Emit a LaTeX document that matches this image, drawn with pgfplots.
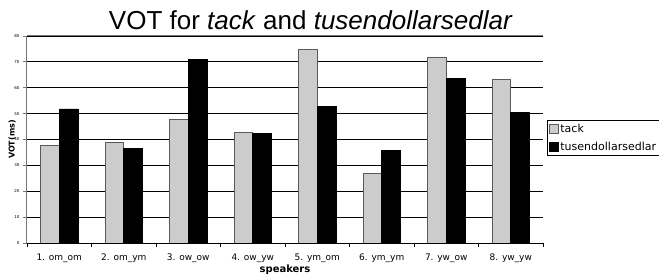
\documentclass[border=0pt]{standalone}
\usepackage{pgfplots}
\pgfplotsset{compat=1.18}
\usepackage{fontspec}
\setmainfont{DejaVu Sans}
\newfontfamily\titlefont{Liberation Sans}
\definecolor{tackgray}{RGB}{204,204,204}
\definecolor{edgegray}{RGB}{90,90,90}
\definecolor{axgray}{RGB}{120,120,120}
\begin{document}
\begin{tikzpicture}[x=1pt,y=1pt]
\path[use as bounding box, clip] (0,0) rectangle (659,280);
\begin{axis}[
  at={(27pt,37pt)}, anchor=south west,
  scale only axis, width=516pt, height=207pt,
  ybar=0pt, bar width=18.7pt,
  xmin=-0.5, xmax=7.5, ymin=0, ymax=80,
  xtick={0,...,7},
  xticklabels={1. om\_om,2. om\_ym,3. ow\_ow,4. ow\_yw,5. ym\_om,6. ym\_ym,7. yw\_ow,8. yw\_yw},
  major x tick style={draw=none},
  minor xtick={-0.5,0.5,...,7.5},
  minor x tick style={black, line width=0.8pt},
  x tick style={line width=0.8pt},
  tick align=outside,
  minor tick length=4pt,
  major tick length=4pt,
  xtick pos=bottom, ytick pos=left,
  ytick={0,10,...,80},
  y tick style={draw=axgray, line width=0.8pt},
  ymajorgrids,
  major grid style={black, line width=0.8pt},
  axis x line*=bottom,
  axis y line*=left,
  x axis line style={black, line width=0.8pt, -},
  y axis line style={axgray, line width=1pt, -},
  xticklabel style={font=\fontsize{9}{10}\selectfont, anchor=base, yshift=-14pt},
  yticklabel style={font=\fontsize{4}{5}\selectfont},
  /pgf/number format/assume math mode=true,
  title={\titlefont VOT for \textit{tack} and \textit{tusendollarsedlar}},
  title style={font=\fontsize{26}{29}\selectfont, at={(axis description cs:0.55,1)}, anchor=base, yshift=0pt},
  xlabel={speakers},
  xlabel style={font=\bfseries\fontsize{10}{11}\selectfont, at={(axis description cs:0.5,-0.13)}, anchor=center},
  ylabel={VOT(ms)},
  ylabel style={font=\bfseries\fontsize{8}{9}\selectfont, at={(axis description cs:-0.029,0.5)}, anchor=center},
  legend style={at={(axis description cs:1.0078,0.594)}, anchor=north west, draw=black, line width=0.6pt,
    font=\fontsize{11}{13}\selectfont, inner sep=1.5pt, row sep=4pt},
  legend cell align=left,
  legend image code/.code={\draw[#1, line width=0.6pt] (0pt,-4.5pt) rectangle (9pt,4.5pt);},
]
\addplot[fill=tackgray, draw=edgegray, line width=0.6pt] coordinates {
(0,37.6) (1,38.9) (2,47.8) (3,42.8) (4,74.8) (5,26.9) (6,71.9) (7,63.3)};
\addlegendentry{tack}
\addplot[fill=black, draw=black, line width=0.6pt] coordinates {
(0,51.8) (1,36.6) (2,71.0) (3,42.5) (4,52.7) (5,35.8) (6,63.6) (7,50.6)};
\addlegendentry{tusendollarsedlar}
\draw[axgray, line width=1pt] (rel axis cs:0,1) -- (rel axis cs:1,1);
\end{axis}
\end{tikzpicture}
\end{document}
